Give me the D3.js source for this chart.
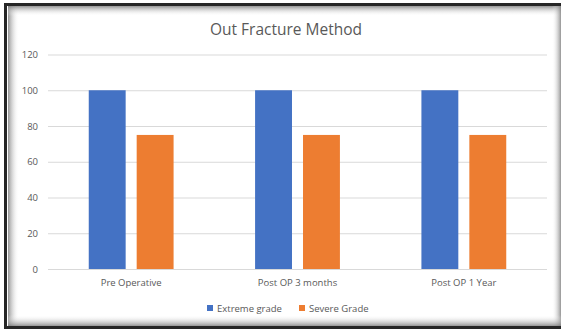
<!DOCTYPE html>
<html>
<head>
<meta charset="utf-8">
<script src="https://cdn.jsdelivr.net/npm/d3@7"></script>
<style>
  html, body { margin: 0; padding: 0; background: #ffffff; }
  svg { display: block; }
  text { font-family: "Open Sans", "Liberation Sans", sans-serif; fill: #595959; }
</style>
</head>
<body>
<svg id="chart" width="561" height="331"></svg>
<script>
// Chart data
const categories = ["Pre Operative", "Post OP 3 months", "Post OP 1 Year"];
const seriesNames = ["Extreme grade", "Severe Grade"];
const extremeGrade = [100, 100, 100];
const severeGrade = [75, 75, 75];
const yTicks = [0, 20, 40, 60, 80, 100, 120];
const colors = ["#4472c4", "#ed7d31"];

const seriesValues = [extremeGrade, severeGrade];
const W = 561, H = 331;
const svg = d3.select("#chart");

// Frame: dark outline with soft inner shadow
const defs = svg.append("defs");
function grad(id, x1, y1, x2, y2) {
  const g = defs.append("linearGradient").attr("id", id)
    .attr("x1", x1).attr("y1", y1).attr("x2", x2).attr("y2", y2);
  g.append("stop").attr("offset", "0%").attr("stop-color", "#7a7a7a").attr("stop-opacity", 0.8);
  g.append("stop").attr("offset", "100%").attr("stop-color", "#ffffff").attr("stop-opacity", 0);
}
grad("gL", "0", "0", "1", "0");
grad("gT", "0", "0", "0", "1");
grad("gR", "1", "0", "0", "0");
grad("gB", "0", "1", "0", "0");

svg.append("rect").attr("x", 0).attr("y", 0).attr("width", W).attr("height", H).attr("fill", "#ffffff");
svg.append("rect").attr("x", 8).attr("y", 6).attr("width", 11).attr("height", 320).attr("fill", "url(#gL)");
svg.append("rect").attr("x", 8).attr("y", 6).attr("width", W - 8).attr("height", 10).attr("fill", "url(#gT)");
svg.append("rect").attr("x", W - 9).attr("y", 6).attr("width", 9).attr("height", 320).attr("fill", "url(#gR)");
svg.append("rect").attr("x", 8).attr("y", 315).attr("width", W - 8).attr("height", 11).attr("fill", "url(#gB)");
svg.append("path")
  .attr("d", `M${W + 2},4.5 H5.5 V327.5 H${W + 2}`)
  .attr("fill", "none").attr("stroke", "#262626").attr("stroke-width", 3);

// Plot geometry
const plot = { left: 48, right: 547, top: 54.5, bottom: 269 };

const y = d3.scaleLinear().domain([0, 120]).range([plot.bottom, plot.top]);
const x0 = d3.scaleBand().domain(categories).range([plot.left, plot.right]).paddingInner(0.49).paddingOuter(0.245);
const x1 = d3.scaleBand().domain(seriesNames).range([0, x0.bandwidth()]).paddingInner(0.23).paddingOuter(0);

// Gridlines and y labels
const yAxis = d3.axisLeft(y).tickValues(yTicks).tickSize(-(plot.right - plot.left)).tickPadding(10);
const gy = svg.append("g").attr("transform", `translate(${plot.left},0)`).call(yAxis);
gy.select(".domain").remove();
gy.selectAll(".tick line").attr("stroke", "#d9d9d9").attr("stroke-width", 1);
gy.selectAll(".tick text").attr("font-size", 9.5).attr("fill", "#595959")
  .style("font-family", "'Open Sans', sans-serif");

// Bars
const groups = svg.append("g").selectAll("g").data(categories).join("g")
  .attr("transform", d => `translate(${x0(d)},0)`);
groups.selectAll("rect")
  .data((d, i) => seriesNames.map((s, j) => ({ s, v: seriesValues[j][i], j })))
  .join("rect")
  .attr("x", d => x1(d.s))
  .attr("y", d => y(d.v))
  .attr("width", x1.bandwidth())
  .attr("height", d => y(0) - y(d.v))
  .attr("fill", d => colors[d.j]);

// Category labels
const xAxis = d3.axisBottom(x0).tickSize(0).tickPadding(10);
const gx = svg.append("g").attr("transform", `translate(0,${plot.bottom})`).call(xAxis);
gx.select(".domain").remove();
gx.selectAll(".tick text").attr("font-size", 9.5).attr("fill", "#595959")
  .style("font-family", "'Open Sans', sans-serif");

// Title
svg.append("text").attr("x", 286).attr("y", 35).attr("text-anchor", "middle")
  .attr("font-size", 15.5).text("Out Fracture Method");

// Legend
const legendItems = [{ name: seriesNames[0], x: 207 }, { name: seriesNames[1], x: 299 }];
const lg = svg.append("g").selectAll("g").data(legendItems).join("g")
  .attr("transform", d => `translate(${d.x},305)`);
lg.append("rect").attr("width", 6).attr("height", 6).attr("fill", (d, i) => colors[i]);
lg.append("text").attr("x", 10).attr("y", 6.5).attr("font-size", 9.5).text(d => d.name);
</script>
</body>
</html>
